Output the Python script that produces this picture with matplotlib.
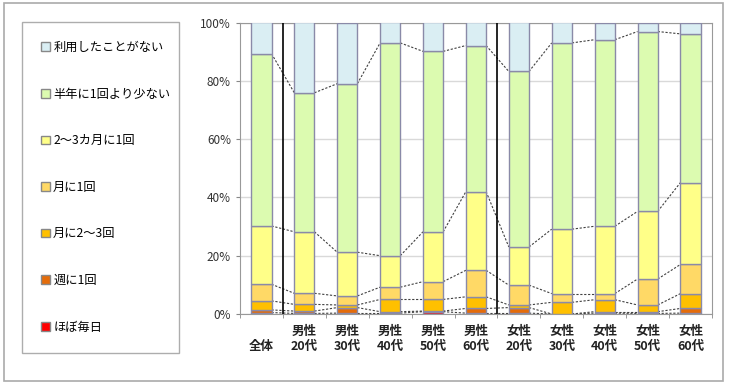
import matplotlib
matplotlib.use("Agg")
import matplotlib.pyplot as plt
import numpy as np
from matplotlib.patches import Rectangle, Patch

plt.rcParams['font.family'] = ['Noto Sans CJK JP', 'DejaVu Sans']

categories = ["\n全体", "男性\n20代", "男性\n30代", "男性\n40代", "男性\n50代", "男性\n60代",
              "女性\n20代", "女性\n30代", "女性\n40代", "女性\n50代", "女性\n60代"]

# percentages per segment, bottom to top
daily = [0.5, 0.2, 0.3, 0.3, 0.8, 0.3, 0.3, 0.0, 0.3, 0.2, 0.3]
weekly = [0.9, 0.8, 1.9, 0.5, 0.2, 1.6, 1.9, 0.0, 0.5, 0.6, 1.6]
twice_month = [3.1, 2.3, 0.9, 4.2, 4.0, 4.0, 0.9, 4.0, 4.1, 2.3, 5.1]
monthly = [5.7, 3.8, 3.1, 4.2, 6.1, 9.1, 6.8, 3.0, 2.1, 8.9, 10.0]
bimonthly = [20.0, 21.1, 15.0, 10.8, 17.1, 27.0, 13.1, 22.1, 23.1, 23.2, 28.1]
rare = [59.1, 47.7, 57.8, 73.0, 61.9, 50.1, 60.2, 63.9, 64.0, 61.7, 51.0]
never = [10.7, 24.1, 21.0, 7.0, 9.9, 7.9, 16.8, 7.0, 5.9, 3.1, 3.9]

series = [daily, weekly, twice_month, monthly, bimonthly, rare, never]
labels = ["ほぼ毎日", "週に1回", "月に2～3回", "月に1回", "2～3カ月に1回", "半年に1回より少ない", "利用したことがない"]
colors = ["#ff0000", "#e46c0a", "#ffc000", "#ffd966", "#ffff88", "#dcfbb0", "#daeef3"]

fig = plt.figure(figsize=(7.3, 3.86), dpi=100)
ax = fig.add_axes([240 / 730, 72 / 386, 472 / 730, 291.5 / 386])

x = np.arange(len(categories))
w = 0.47
bottom = np.zeros(len(categories))
for vals, lab, col in zip(series, labels, colors):
    ax.bar(x, vals, w, bottom=bottom, color=col, edgecolor="#8a8aa8", linewidth=1, label=lab, zorder=3)
    bottom = bottom + np.array(vals)
    if lab != labels[-1]:
        # series lines between neighbouring bars
        for i in range(len(x) - 1):
            ax.plot([x[i] + w / 2, x[i + 1] - w / 2], [bottom[i], bottom[i + 1]],
                    color="#404040", lw=0.8, ls=(0, (2, 1.5)), zorder=2)

for sep in [0.5, 5.5]:
    ax.axvline(sep, color="black", lw=1.2, zorder=4)

ax.set_xlim(-0.5, len(categories) - 0.5)
ax.set_ylim(0, 100)
ax.set_yticks([0, 20, 40, 60, 80, 100])
ax.set_yticklabels(["0%", "20%", "40%", "60%", "80%", "100%"], fontsize=8.5, color="#333333")
ax.yaxis.grid(True, color="#d9d9d9", lw=1, zorder=0)
ax.set_xticks(x)
ax.set_xticklabels(categories, fontsize=9, fontweight="bold", color="#222222")
ax.set_xticks(np.arange(-0.5, len(categories)), minor=True)
ax.tick_params(axis="x", which="major", length=0, pad=8)
ax.tick_params(axis="x", which="minor", length=3, color="#888888")
ax.tick_params(axis="y", length=3, color="#888888")
for s in ax.spines.values():
    s.set_color("#999999")

handles = [Patch(facecolor=c, edgecolor="#888888", label=l) for c, l in zip(colors, labels)][::-1]
fig.legend(handles=handles, loc="upper left",
           bbox_to_anchor=(22 / 730, 38 / 386, 157 / 730, 326 / 386),
           mode="expand", fontsize=8.8, frameon=True, fancybox=False, edgecolor="#999999",
           handlelength=0.7, handleheight=0.7, handletextpad=0.3, labelspacing=2.75,
           borderpad=1.55, borderaxespad=0)

fig.patches.append(Rectangle((4 / 730, 5 / 386), 719 / 730, 378 / 386, transform=fig.transFigure,
                             fill=False, edgecolor="#aaaaaa", lw=1.2))

fig.savefig("out.png", dpi=100)
plt.close(fig)
